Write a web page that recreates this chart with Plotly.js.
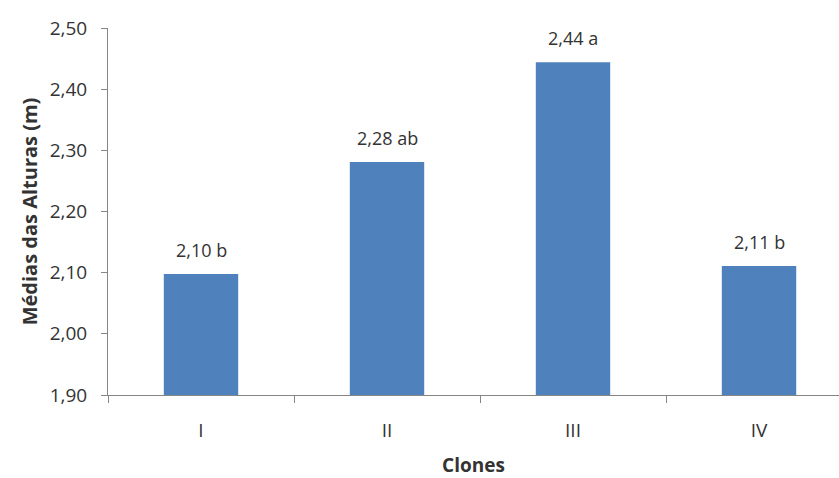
<!DOCTYPE html>
<html><head><meta charset="utf-8">
<script src="https://cdn.plot.ly/plotly-3.0.1.min.js"></script>
<style>html,body{margin:0;padding:0;background:#fff}</style>
</head><body><div id="chart" style="width:839px;height:478px"></div>
<script>
const categories = ["I", "II", "III", "IV"];
const values = [2.098, 2.281, 2.444, 2.111];
const labels = ["2,10 b", "2,28 ab", "2,44 a", "2,11 b"];
const yTicks = [1.9, 2.0, 2.1, 2.2, 2.3, 2.4, 2.5];
const yTickText = ["1,90", "2,00", "2,10", "2,20", "2,30", "2,40", "2,50"];

const fontFam = "'Open Sans', 'Liberation Sans', sans-serif";
const annotations = categories.map((c, i) => ({
  x: c, y: values[i], xref: "x", yref: "y",
  text: labels[i], showarrow: false,
  xanchor: "center", yanchor: "bottom", yshift: 10,
  font: {family: fontFam, size: 18, color: "#333"}
}));
Plotly.newPlot("chart", [{
  type: "bar",
  x: categories,
  y: values,
  marker: {color: "#4F81BD", line: {width: 0}},
  width: 0.4,
  hoverinfo: "none"
}], {
  width: 839, height: 478,
  margin: {l: 108, r: 0, t: 28, b: 83},
  paper_bgcolor: "#fff", plot_bgcolor: "#fff",
  showlegend: false,
  font: {family: fontFam, color: "#333"},
  annotations: annotations,
  xaxis: {
    type: "category",
    range: [-0.5, 3.43],
    showline: true, linecolor: "#868686", linewidth: 1,
    ticks: "outside", tickson: "boundaries", ticklen: 7, tickcolor: "#868686",
    tickfont: {size: 19, color: "#333"},
    ticklabelstandoff: 18,
    showgrid: false, zeroline: false,
    title: {text: "<b>Clones</b>", font: {size: 19, color: "#333"}, standoff: 20}
  },
  yaxis: {
    range: [1.9, 2.5],
    tickvals: yTicks, ticktext: yTickText,
    showline: true, linecolor: "#868686", linewidth: 1,
    ticks: "outside", ticklen: 6, tickcolor: "#868686",
    tickfont: {size: 19, color: "#333"},
    ticklabelstandoff: 10,
    showgrid: false, zeroline: false,
    title: {text: "<b>Médias das Alturas (m)</b>", font: {size: 20, color: "#333"}, standoff: 6}
  }
}, {staticPlot: true});
</script></body></html>
